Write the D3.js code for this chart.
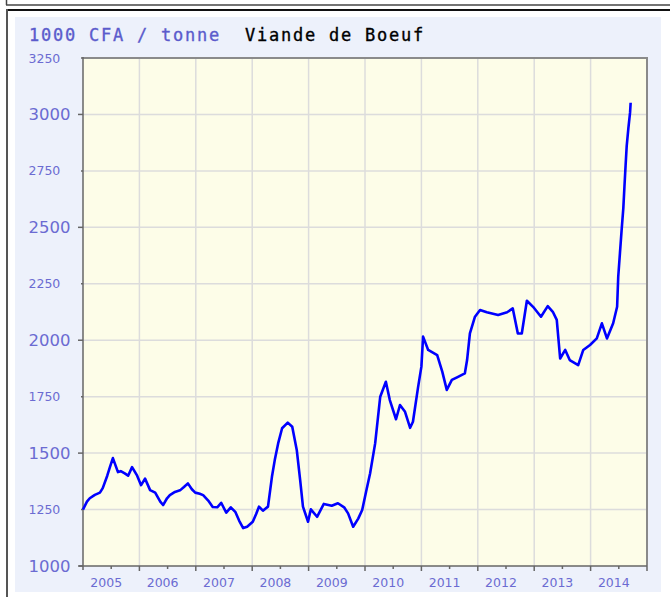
<!DOCTYPE html>
<html>
<head>
<meta charset="utf-8">
<script src="https://cdn.jsdelivr.net/npm/d3@7"></script>
<style>
  html, body { margin: 0; padding: 0; background: #ffffff; }
  svg { display: block; }
</style>
</head>
<body>
<svg id="chart" width="670" height="597"></svg>
<script>
// ---- data (decimal year, price in 1000 CFA / tonne) ----
const dates = [
  2005.00, 2005.07, 2005.12, 2005.21, 2005.30, 2005.35, 2005.43, 2005.48, 2005.53, 2005.62,
  2005.67, 2005.74, 2005.80, 2005.87, 2005.96, 2006.03, 2006.10, 2006.19, 2006.28, 2006.37,
  2006.42, 2006.49, 2006.54, 2006.63, 2006.72, 2006.79, 2006.86, 2006.93, 2006.99, 2007.07,
  2007.13, 2007.22, 2007.30, 2007.38, 2007.45, 2007.54, 2007.62, 2007.70, 2007.77, 2007.84,
  2007.91, 2008.01, 2008.07, 2008.12, 2008.19, 2008.28, 2008.35, 2008.40, 2008.46, 2008.53,
  2008.63, 2008.71, 2008.79, 2008.85, 2008.90, 2008.99, 2009.04, 2009.15, 2009.27, 2009.41,
  2009.52, 2009.63, 2009.70, 2009.79, 2009.88, 2009.95, 2010.02, 2010.09, 2010.18, 2010.27,
  2010.37, 2010.44, 2010.55, 2010.62, 2010.71, 2010.80, 2010.85, 2010.94, 2011.00, 2011.03,
  2011.12, 2011.28, 2011.37, 2011.45, 2011.54, 2011.65, 2011.77, 2011.81, 2011.86, 2011.95,
  2012.04, 2012.16, 2012.36, 2012.52, 2012.62, 2012.71, 2012.78, 2012.87, 2012.98, 2013.12,
  2013.24, 2013.33, 2013.40, 2013.46, 2013.55, 2013.63, 2013.78, 2013.87, 2013.99, 2014.11,
  2014.20, 2014.29, 2014.40, 2014.47, 2014.49, 2014.52, 2014.55, 2014.58, 2014.60, 2014.62,
  2014.64, 2014.67, 2014.70, 2014.71
];
const prices = [
  1250, 1285, 1300, 1315, 1325, 1345, 1400, 1440, 1478, 1416,
  1420, 1410, 1400, 1438, 1400, 1358, 1387, 1336, 1325, 1285,
  1270, 1300, 1314, 1328, 1335, 1350, 1366, 1340, 1325, 1320,
  1314, 1290, 1261, 1260, 1280, 1236, 1260, 1240, 1200, 1168,
  1174, 1196, 1230, 1263, 1245, 1263, 1395, 1469, 1543, 1610,
  1635, 1617, 1514, 1381, 1263, 1196, 1251, 1218, 1275, 1267,
  1278, 1260, 1233, 1174, 1210, 1248, 1330, 1410, 1543, 1750,
  1816, 1735, 1650, 1713, 1683, 1612, 1639, 1790, 1883, 2016,
  1957, 1934, 1861, 1780, 1824, 1838, 1853, 1912, 2030, 2104,
  2134, 2124, 2112, 2124, 2141, 2030, 2030, 2175, 2148, 2104,
  2151, 2126, 2090, 1919, 1957, 1912, 1890, 1957, 1979, 2008,
  2075, 2008, 2075, 2148, 2281, 2385, 2488, 2584, 2680, 2772,
  2860, 2939, 3009, 3052
];
const yearLabels = ["2005","2006","2007","2008","2009","2010","2011","2012","2013","2014"];
const yTicksMajor = [1000, 1500, 2000, 2500, 3000];
const yTicksMinor = [1250, 1750, 2250, 2750, 3250];
const unitLabel = "1000 CFA / tonne";
const seriesTitle = "Viande de Boeuf";

// ---- layout ----
const svg = d3.select("#chart");
const plot = { left: 83, right: 647, top: 58, bottom: 566 };
const labelColor = "#6b6bd2";

// outer frames
svg.append("line").attr("x1", 6.5).attr("x2", 6.5).attr("y1", 0).attr("y2", 5)
  .attr("stroke", "#444").attr("stroke-width", 1.5);
svg.append("line").attr("x1", 6).attr("x2", 670).attr("y1", 5).attr("y2", 5)
  .attr("stroke", "#444").attr("stroke-width", 1.5);
svg.append("line").attr("x1", 6).attr("x2", 670).attr("y1", 10).attr("y2", 10)
  .attr("stroke", "#111").attr("stroke-width", 2);
svg.append("line").attr("x1", 7).attr("x2", 7).attr("y1", 9).attr("y2", 597)
  .attr("stroke", "#555").attr("stroke-width", 2);

// light blue panel
svg.append("rect").attr("x", 15).attr("y", 17).attr("width", 646).attr("height", 575)
  .attr("fill", "#edf1fb");

const x = d3.scaleLinear().domain([2005, 2015]).range([plot.left, plot.right]);
const y = d3.scaleLinear().domain([1000, 3250]).range([plot.bottom, plot.top]);

// plot background
svg.append("rect").attr("x", plot.left).attr("y", plot.top)
  .attr("width", plot.right - plot.left).attr("height", plot.bottom - plot.top)
  .attr("fill", "#fdfde8");

// gridlines
const yGrid = yTicksMajor.concat(yTicksMinor).filter(v => v > 1000 && v < 3250);
svg.append("g").selectAll("line").data(yGrid).join("line")
  .attr("x1", plot.left).attr("x2", plot.right)
  .attr("y1", d => y(d)).attr("y2", d => y(d))
  .attr("stroke", "#dcdcdc").attr("stroke-width", 1.5);
const xGrid = d3.range(2006, 2015);
svg.append("g").selectAll("line").data(xGrid).join("line")
  .attr("x1", d => x(d)).attr("x2", d => x(d))
  .attr("y1", plot.top).attr("y2", plot.bottom)
  .attr("stroke", "#dcdcdc").attr("stroke-width", 1.5);

// plot border (top/right)
svg.append("path")
  .attr("d", `M${plot.left},${plot.top}H${plot.right}V${plot.bottom}`)
  .attr("fill", "none").attr("stroke", "#8a8a8a").attr("stroke-width", 2);

// axes lines
svg.append("line").attr("x1", plot.left).attr("x2", plot.left)
  .attr("y1", plot.top - 1).attr("y2", plot.bottom + 4)
  .attr("stroke", "#666").attr("stroke-width", 1.5);
svg.append("line").attr("x1", plot.left - 4).attr("x2", plot.right)
  .attr("y1", plot.bottom).attr("y2", plot.bottom)
  .attr("stroke", "#666").attr("stroke-width", 1.5);

// x ticks
const xMajor = d3.range(2006, 2016);
svg.append("g").selectAll("line").data(xMajor).join("line")
  .attr("x1", d => x(d)).attr("x2", d => x(d))
  .attr("y1", plot.bottom).attr("y2", plot.bottom + 5)
  .attr("stroke", "#666").attr("stroke-width", 1.5);
svg.append("g").selectAll("line").data(yearLabels).join("line")
  .attr("x1", d => x(+d + 0.5)).attr("x2", d => x(+d + 0.5))
  .attr("y1", plot.bottom).attr("y2", plot.bottom + 3)
  .attr("stroke", "#666").attr("stroke-width", 1.5);
svg.append("g").selectAll("text").data(yearLabels).join("text")
  .attr("x", d => x(+d + 0.5) - 5).attr("y", 587)
  .attr("text-anchor", "middle")
  .attr("font-family", "DejaVu Sans, Verdana, sans-serif")
  .attr("font-size", 12.5).attr("fill", labelColor)
  .text(d => d);

// y ticks
svg.append("g").selectAll("line").data(yTicksMajor).join("line")
  .attr("x1", plot.left - 5).attr("x2", plot.left)
  .attr("y1", d => y(d)).attr("y2", d => y(d))
  .attr("stroke", "#666").attr("stroke-width", 1.5);
svg.append("g").selectAll("line").data(yTicksMinor).join("line")
  .attr("x1", plot.left - 2).attr("x2", plot.left)
  .attr("y1", d => y(d)).attr("y2", d => y(d))
  .attr("stroke", "#666").attr("stroke-width", 1.5);
svg.append("g").selectAll("text").data(yTicksMajor).join("text")
  .attr("x", 28.5).attr("y", d => y(d)).attr("dy", "0.36em")
  .attr("font-family", "DejaVu Sans, Verdana, sans-serif")
  .attr("font-size", 16.5).attr("fill", labelColor)
  .text(d => d);
svg.append("g").selectAll("text").data(yTicksMinor).join("text")
  .attr("x", 28.5).attr("y", d => y(d)).attr("dy", "0.36em")
  .attr("font-family", "DejaVu Sans, Verdana, sans-serif")
  .attr("font-size", 12.5).attr("fill", labelColor)
  .text(d => d);

// title
const title = svg.append("text").attr("y", 41)
  .attr("font-family", "DejaVu Sans Mono, monospace")
  .attr("font-size", 17).attr("letter-spacing", 1.77)
  .attr("stroke-width", 0.35);
title.append("tspan").attr("x", 29).attr("fill", "#5b5bcc").attr("stroke", "#5b5bcc").text(unitLabel);
title.append("tspan").attr("x", 245).attr("fill", "#000").attr("stroke", "#000").text(seriesTitle);

// series line
const pts = dates.map((d, i) => [d, prices[i]]);
svg.append("path").datum(pts)
  .attr("fill", "none").attr("stroke", "#0000ff").attr("stroke-width", 2.6)
  .attr("stroke-linejoin", "round")
  .attr("d", d3.line().x(d => x(d[0])).y(d => y(d[1])));
</script>
</body>
</html>
